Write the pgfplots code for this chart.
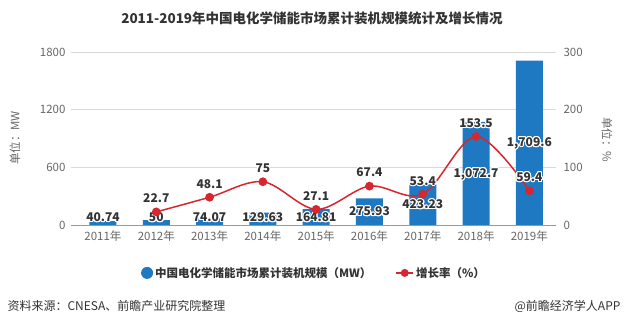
\documentclass[border=0pt]{standalone}
\usepackage{fontspec}
\setmainfont{Noto Sans CJK SC}
\usepackage{contour}
\contourlength{1.1pt}
\contournumber{16}
\usepackage{pgfplots}
\pgfplotsset{compat=1.18}
\definecolor{barblue}{HTML}{1E78C2}
\definecolor{linered}{HTML}{D7272E}
\definecolor{tickgray}{HTML}{666666}
\definecolor{labeldark}{HTML}{333333}
\begin{document}
\begin{tikzpicture}
\useasboundingbox (0pt,0pt) rectangle (625pt,326pt);
% title
\node[font=\bfseries\fontsize{13.5}{16}\selectfont, text=labeldark] at (312pt,308pt) {2011-2019年中国电化学储能市场累计装机规模统计及增长情况};
\begin{axis}[
  at={(71pt,101pt)}, anchor=south west, scale only axis,
  width=485pt, height=173pt,
  xmin=-0.6, xmax=8.5, ymin=0, ymax=1800,
  ytick={0,600,1200,1800},
  ymajorgrids, grid style={color=black!15, line width=0.6pt},
  xtick={0,...,8},
  xticklabels={2011年,2012年,2013年,2014年,2015年,2016年,2017年,2018年,2019年},
  axis x line*=bottom, axis y line*=left,
  y axis line style={draw=none},
  x axis line style={draw=black!40, line width=0.6pt},
  major tick length=0pt,
  tick label style={font=\fontsize{11.5}{13}\selectfont, text=tickgray},
  /pgf/number format/assume math mode=true,
  /pgf/number format/1000 sep={},
  xticklabel style={yshift=-2pt},
  yticklabel style={xshift=-2pt},
  clip=false,
  legend style={at={(0.501,-0.277)}, anchor=center, draw=none, fill=none,
    font=\bfseries\fontsize{11.5}{13}\selectfont, text=labeldark,
    legend columns=2, /tikz/every even column/.append style={column sep=22pt}},
]
\addplot[ybar, bar width=27pt, fill=barblue, draw=none,
  legend image code/.code={\fill[barblue] (5pt,0pt) circle (6pt);}]
  coordinates {(0,40.74) (1,50) (2,74.07) (3,129.63) (4,164.81) (5,275.93) (6,423.23) (7,1072.7) (8,1709.6)};
\addlegendentry{中国电化学储能市场累计装机规模（MW）}
\addlegendimage{linered, line width=1.5pt, mark=*, mark size=3.2pt}
\addlegendentry{增长率（\%）}
\addplot[draw=none, mark=none, nodes near coords={\contour{white}{\pgfplotspointmeta}}, point meta=explicit symbolic,
  nodes near coords style={anchor=center, font=\bfseries\fontsize{12}{14}\selectfont, text=labeldark}]
  coordinates {(0,73)[40.74] (1,73)[50] (2,73)[74.07] (3,73)[129.63] (4,73)[164.81] (5,135)[275.93] (6,208)[423.23] (7,520)[{1,072.7}] (8,843)[{1,709.6}]};
\end{axis}
\begin{axis}[
  at={(71pt,101pt)}, anchor=south west, scale only axis,
  width=485pt, height=173pt,
  xmin=-0.6, xmax=8.5, ymin=0, ymax=300,
  ytick={0,100,200,300},
  axis y line*=right, axis x line=none,
  y axis line style={draw=none},
  major tick length=0pt,
  tick label style={font=\fontsize{11.5}{13}\selectfont, text=tickgray},
  /pgf/number format/assume math mode=true,
  yticklabel style={xshift=4pt},
  clip=false,
]
\addplot[linered, line width=1.5pt, smooth, tension=0.55, mark=*, mark size=3.6pt,
  mark options={fill=linered, draw=linered},
  nodes near coords={\contour{white}{\pgfplotspointmeta}}, point meta=explicit symbolic,
  nodes near coords style={anchor=center, yshift=13pt, font=\bfseries\fontsize{12}{14}\selectfont, text=labeldark}]
  coordinates {(1,22.7)[22.7] (2,48.1)[48.1] (3,75)[75] (4,27.1)[27.1] (5,67.4)[67.4] (6,53.4)[53.4] (7,153.5)[153.5] (8,59.4)[59.4]};
\end{axis}
% axis titles
\node[rotate=90, font=\fontsize{11.5}{13}\selectfont, text=tickgray] at (15pt,188pt) {单位：MW};
\node[rotate=-90, font=\fontsize{11.5}{13}\selectfont, text=tickgray] at (607pt,186pt) {单位：\%};
% source
\node[anchor=west, font=\fontsize{12}{14}\selectfont, text=labeldark] at (4pt,20pt) {资料来源：CNESA、前瞻产业研究院整理};
\node[anchor=east, font=\fontsize{12}{14}\selectfont, text=labeldark] at (624pt,20pt) {@前瞻经济学人APP};
\end{tikzpicture}
\end{document}
